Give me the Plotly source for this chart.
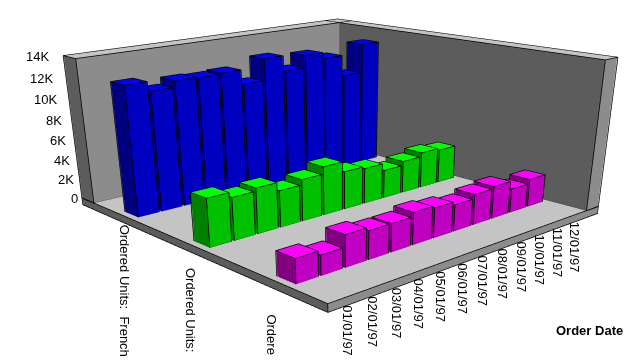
import numpy as np
import plotly.graph_objects as go

dates = ["01/01/97","02/01/97","03/01/97","04/01/97","05/01/97","06/01/97","07/01/97","08/01/97","09/01/97","10/01/97","11/01/97","12/01/97"]
categories = ["Ordered Units:  French","Ordered Units:","Ordere"]
french = [12400,11500,12100,12000,12100,10700,12800,11300,12500,11900,9800,12700]
second = [4500,4000,4300,3500,4000,4700,3700,3500,2800,3200,3600,3400]
third = [2200,1800,2900,2600,2600,3000,2800,2500,2900,3100,2300,2700]
ytick_vals = [0,2000,4000,6000,8000,10000,12000,14000]
ytick_text = ["0","2K","4K","6K","8K","10K","12K","14K"]

W, H = 633, 800
BAR_W, BAR_D = 0.84, 0.20
XO, XS = 0.70, 0.965
TX, TY, SLAB, ZMAX = 0.678, 0.198, 709, 14000
NX, NY = 12, 3
EPS = (0.012, 0.004, 12)
PAD = (0.05, 0.02, 30)
CAT_DX = [-1,-5,-8]
CAT_DY = [1,-12,-22]

B, C = 1.0521, 0.4144
E = np.array([-1.358,-1.5227,0.8662]); T = np.array([-0.4704,-0.4988,0.3*C]); ROLL = -0.0141
xr = [-PAD[0], NX+TX+PAD[0]]; yr = [-PAD[1], NY+TY+PAD[1]]; zr = [-SLAB-PAD[2], ZMAX+PAD[2]]
scale = np.array([1/NX, B/NY, C/ZMAX])
ar = np.array([xr[1]-xr[0], yr[1]-yr[0], zr[1]-zr[0]])*scale
wc = np.array([sum(xr)/2, sum(yr)/2, sum(zr)/2])*scale
fw = (T-E)/np.linalg.norm(T-E)
ri = np.cross(fw,[0,0,1.]); ri/=np.linalg.norm(ri)
up = np.cross(ri,fw)
up2 = -ri*np.sin(ROLL)+up*np.cos(ROLL)
eye = E-wc; cen = T-wc

class Boxes:
    def __init__(s): s.v=[];s.i=[];s.j=[];s.k=[];s.c=[];s.ex=[];s.ey=[];s.ez=[]
    def add(s,x0,x1,y0,y1,z0,z1,top,left,right):
        n=len(s.v)
        s.v+=[(x0,y0,z0),(x1,y0,z0),(x1,y1,z0),(x0,y1,z0),(x0,y0,z1),(x1,y0,z1),(x1,y1,z1),(x0,y1,z1)]
        faces=[((4,5,6,7),top),((0,3,7,4),left),((0,1,5,4),right),((1,2,6,5),right),((2,3,7,6),left),((0,1,2,3),left)]
        for (a,b_,c_,d),col in faces:
            for t in ((a,b_,c_),(a,c_,d)):
                s.i.append(n+t[0]);s.j.append(n+t[1]);s.k.append(n+t[2]);s.c.append(col)
        sx=[-1,1,1,-1,-1,1,1,-1];sy=[-1,-1,1,1,-1,-1,1,1];sz=[-1,-1,-1,-1,1,1,1,1]
        for a,b_ in [(0,1),(1,2),(2,3),(3,0),(4,5),(5,6),(6,7),(7,4),(0,4),(1,5),(2,6),(3,7)]:
            for q in (a,b_):
                s.ex.append(s.v[n+q][0]+sx[q]*EPS[0]);s.ey.append(s.v[n+q][1]+sy[q]*EPS[1]);s.ez.append(s.v[n+q][2]+sz[q]*EPS[2])
            s.ex.append(None);s.ey.append(None);s.ez.append(None)

b=Boxes()
GT,GL,GR="#c4c4c4","#5c5c5c","#8c8c8c"
b.add(0,NX+TX,0,NY+TY,-SLAB,0,GT,GL,GR)
b.add(0,NX+TX,NY,NY+TY,0,ZMAX,GT,GL,GR)
b.add(NX,NX+TX,0,NY+TY,0,ZMAX,GT,GL,GR)
series=[(french,2.5,"#0000ff","#000080","#0000c0"),
        (second,1.5,"#00ff00","#008000","#00c000"),
        (third,0.5,"#ff00ff","#800080","#c000c0")]
for vals,yc,top,left,right in series:
    for i,v in enumerate(vals):
        xc=XO+i*XS
        b.add(xc-BAR_W/2,xc+BAR_W/2,yc-BAR_D/2,yc+BAR_D/2,0,v,top,left,right)

vx,vy,vz=zip(*b.v)
fig=go.Figure()
fig.add_trace(go.Mesh3d(x=vx,y=vy,z=vz,i=b.i,j=b.j,k=b.k,facecolor=b.c,flatshading=True,
    lighting=dict(ambient=1,diffuse=0,specular=0,fresnel=0,roughness=1),hoverinfo="skip",showscale=False))
fig.add_trace(go.Scatter3d(x=b.ex,y=b.ey,z=b.ez,mode="lines",line=dict(color="black",width=1.5),hoverinfo="skip",showlegend=False))

FONT="Liberation Sans"
ann=[]
for v,t in zip(ytick_vals,ytick_text):
    ann.append(dict(x=0,y=NY+TY,z=v,text=t,showarrow=False,xanchor="right",yanchor="middle",xshift=-2-11*v/ZMAX,yshift=-1,font=dict(family=FONT,size=13,color="black")))
for i,t in enumerate(dates):
    ann.append(dict(x=XO+i*XS,y=0,z=-SLAB,text=t,showarrow=False,textangle=90,xanchor="center",yanchor="top",yshift=2,xshift=1,font=dict(family=FONT,size=13,color="black")))
for c,t in enumerate(categories):
    ann.append(dict(x=0,y=NY-0.5-c,z=-SLAB,text=t,showarrow=False,textangle=90,xanchor="center",yanchor="top",yshift=CAT_DY[c],xshift=CAT_DX[c],font=dict(family=FONT,size=13,color="black")))

hidden=dict(visible=False,showspikes=False)
fig.update_layout(width=W,height=H,margin=dict(l=0,r=0,t=0,b=0),paper_bgcolor="white",showlegend=False,
    scene=dict(domain=dict(x=[0,1],y=[0,1]),aspectmode="manual",aspectratio=dict(x=ar[0],y=ar[1],z=ar[2]),
        xaxis=dict(range=xr,**hidden),yaxis=dict(range=yr,**hidden),zaxis=dict(range=zr,**hidden),
        camera=dict(eye=dict(x=eye[0],y=eye[1],z=eye[2]),center=dict(x=cen[0],y=cen[1],z=cen[2]),up=dict(x=up2[0],y=up2[1],z=up2[2]),
                    projection=dict(type="perspective")),
        annotations=ann),
    annotations=[dict(x=589/W,y=1-330/H,xref="paper",yref="paper",xanchor="center",yanchor="middle",text="<b>Order Date</b>",showarrow=False,font=dict(family=FONT,size=13,color="black"))])
fig.write_html("out.html",config=dict(displayModeBar=False),
    post_script="document.documentElement.style.overflow='hidden';document.body.style.overflow='hidden';document.body.style.margin='0';")
